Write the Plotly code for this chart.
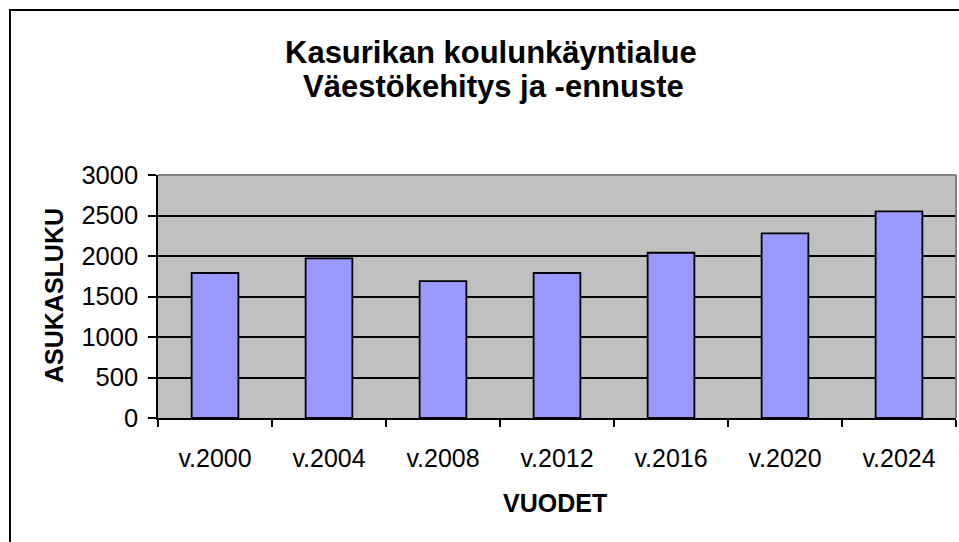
import plotly.graph_objects as go

categories = ["v.2000", "v.2004", "v.2008", "v.2012", "v.2016", "v.2020", "v.2024"]
values = [1790, 1970, 1690, 1790, 2040, 2280, 2550]
y_ticks = [0, 500, 1000, 1500, 2000, 2500, 3000]
title_lines = ["Kasurikan koulunkäyntialue", "Väestökehitys ja -ennuste"]
y_title = "ASUKASLUKU"
x_title = "VUODET"

W, H = 959, 542
L, R, T, B = 158, 956, 175, 418

def px(x):
    return (x - L) / (R - L)

def py(y):
    return (B - y) / (B - T)

FONT = "Liberation Sans, Arial, sans-serif"

fig = go.Figure()
fig.add_trace(go.Bar(
    x=categories, y=values, width=0.41,
    marker=dict(color="#9999FF", line=dict(color="black", width=1.8)),
    hoverinfo="skip",
))

fig.update_layout(
    width=W, height=H,
    margin=dict(l=L, r=W - R, t=T, b=H - B, pad=0),
    paper_bgcolor="white", plot_bgcolor="#C0C0C0",
    showlegend=False,
    font=dict(family=FONT, color="black"),
)
fig.update_xaxes(
    type="category", tickson="boundaries", ticks="outside", ticklen=7,
    tickwidth=1.5, tickcolor="black", showline=True, linecolor="black",
    linewidth=1.5, showgrid=False, tickfont=dict(size=25, family=FONT),
    ticklabelstandoff=17,
)
fig.update_yaxes(
    range=[0, 3000], tickvals=y_ticks, ticks="outside", ticklen=8,
    tickwidth=1.5, tickcolor="black", showline=True, linecolor="black",
    linewidth=1.5, showgrid=True, gridcolor="black", gridwidth=2,
    zeroline=False, tickfont=dict(size=25.5, family=FONT),
    ticklabelstandoff=5,
)

# top/right grey edge of plot area
fig.add_shape(type="line", xref="paper", yref="paper", x0=0, x1=1, y0=1, y1=1,
              line=dict(color="#808080", width=2), layer="above")
fig.add_shape(type="line", xref="paper", yref="paper", x0=1, x1=1, y0=0, y1=1,
              line=dict(color="#808080", width=2), layer="above")
# outer chart border
fig.add_shape(type="rect", xref="paper", yref="paper",
              x0=px(10), x1=px(963), y0=py(546), y1=py(10),
              line=dict(color="black", width=2), fillcolor="rgba(0,0,0,0)")

fig.add_annotation(text="<b>%s</b>" % title_lines[0], xref="paper", yref="paper",
                   x=px(491), y=py(52), xanchor="center", yanchor="middle",
                   showarrow=False, font=dict(size=31, family=FONT))
fig.add_annotation(text="<b>%s</b>" % title_lines[1], xref="paper", yref="paper",
                   x=px(493), y=py(86.5), xanchor="center", yanchor="middle",
                   showarrow=False, font=dict(size=31, family=FONT))
fig.add_annotation(text="<b>%s</b>" % y_title, xref="paper", yref="paper",
                   x=px(54), y=py(296), xanchor="center", yanchor="middle",
                   textangle=-90, showarrow=False, font=dict(size=25, family=FONT))
fig.add_annotation(text="<b>%s</b>" % x_title, xref="paper", yref="paper",
                   x=px(555), y=py(503), xanchor="center", yanchor="middle",
                   showarrow=False, font=dict(size=25, family=FONT))

fig.write_html("out.html", config={"displayModeBar": False},
               post_script="document.body.style.margin='0px';")
